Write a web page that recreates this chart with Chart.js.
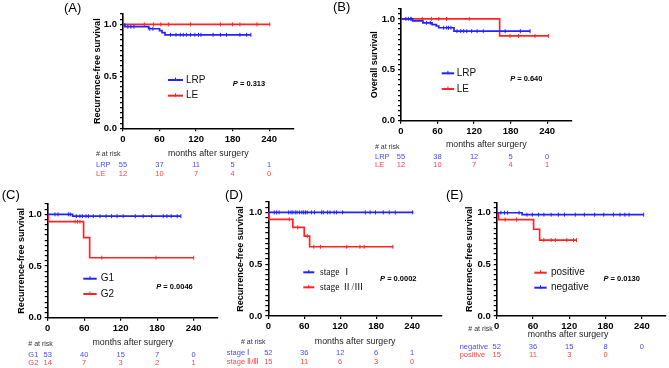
<!DOCTYPE html>
<html>
<head>
<meta charset="utf-8">
<script src="https://cdn.jsdelivr.net/npm/chart.js@4.4.1/dist/chart.umd.min.js"></script>
<style>
  html, body { margin: 0; padding: 0; background: #fff; }
  body { width: 669px; height: 368px; position: relative; overflow: hidden; }
  canvas { position: absolute; }
</style>
</head>
<body>
<canvas id="chartA"></canvas>
<canvas id="chartB"></canvas>
<canvas id="chartC"></canvas>
<canvas id="chartD"></canvas>
<canvas id="chartE"></canvas>
<script>
const monthTicks = [0, 60, 120, 180, 240];

// (A) recurrence-free survival, LRP vs LE
const aLrpMonths = [0, 3, 42, 60, 64, 69, 210];
const aLrpSurvival = [1, 0.978, 0.958, 0.94, 0.921, 0.9, 0.9];
const aLrpCensored = [8, 13, 18, 44, 49, 78, 87, 94, 99, 104, 111, 118, 124, 128, 148, 160, 170, 192, 203, 210];
const aLeMonths = [0, 241];
const aLeSurvival = [1, 1];
const aLeCensored = [35, 50, 62, 75, 111, 160, 180, 192, 220, 241];
const aLrpAtRisk = [55, 37, 11, 5, 1];
const aLeAtRisk = [12, 10, 7, 4, 0];

// (B) overall survival, LRP vs LE
const bLrpMonths = [0, 19, 36, 51, 58, 62, 87, 212];
const bLrpSurvival = [1, 0.981, 0.961, 0.943, 0.93, 0.913, 0.879, 0.879];
const bLrpCensored = [8, 12, 16, 42, 48, 70, 75, 78, 82, 92, 98, 103, 108, 116, 125, 135, 171, 196, 212];
const bLeMonths = [0, 162, 242];
const bLeSurvival = [1, 0.833, 0.833];
const bLeCensored = [17, 35, 50, 62, 75, 112, 179, 193, 220, 242];
const bLrpAtRisk = [55, 38, 12, 5, 0];
const bLeAtRisk = [12, 10, 7, 4, 1];

// (C) recurrence-free survival, G1 vs G2
const cG1Months = [0, 41, 219];
const cG1Survival = [1, 0.982, 0.982];
const cG1Censored = [12, 17, 34, 37, 47, 53, 57, 63, 67, 75, 86, 96, 105, 114, 124, 144, 157, 171, 190, 196, 203, 213, 219];
const cG2Months = [0, 1, 59, 69, 240];
const cG2Survival = [1, 0.929, 0.774, 0.58, 0.58];
const cG2Censored = [45, 49, 53, 89, 178, 240];
const cG1AtRisk = [53, 40, 15, 7, 0];
const cG2AtRisk = [14, 7, 3, 2, 1];

// (D) recurrence-free survival, stage I vs stage II/III
const dStage1Months = [0, 242];
const dStage1Survival = [1, 1];
const dStage1Censored = [10, 14, 18, 34, 38, 41, 45, 48, 52, 56, 59, 62, 65, 72, 77, 89, 92, 99, 103, 110, 114, 124, 162, 170, 179, 192, 202, 212, 241];
const dStage23Months = [0, 1, 41, 60, 69, 208];
const dStage23Survival = [1, 0.933, 0.855, 0.77, 0.668, 0.668];
const dStage23Censored = [35, 49, 65, 76, 87, 131, 153, 160, 208];
const dStage1AtRisk = [52, 36, 12, 6, 1];
const dStage23AtRisk = [15, 11, 6, 3, 0];

// (E) recurrence-free survival, negative vs positive
const eNegMonths = [0, 42, 243];
const eNegSurvival = [1, 0.981, 0.981];
const eNegCensored = [7, 13, 18, 37, 50, 59, 69, 78, 90, 102, 112, 130, 145, 162, 177, 193, 204, 212, 219, 243];
const ePosMonths = [0, 3, 61, 71, 132];
const ePosSurvival = [1, 0.933, 0.84, 0.735, 0.735];
const ePosCensored = [14, 33, 78, 90, 97, 116, 127, 132];
const eNegAtRisk = [52, 36, 15, 8, 0];
const ePosAtRisk = [15, 11, 3, 0, null];

const SANS = '"Liberation Sans", Arial, sans-serif';
const SERIF = '"Liberation Serif", "Noto Sans CJK JP", serif';
const BLUE = '#2323ff', RED = '#ff2424';
const BLUE_TXT = '#4a4aff', RED_TXT = '#ff4545';

function survivalAt(months, surv, t) {
  let s = surv[0];
  months.forEach((m, i) => { if (m <= t) s = surv[i]; });
  return s;
}

function group(name, color, textColor, months, surv, censored, atRisk) {
  return {
    name, color, textColor, atRisk,
    curve: months.map((m, i) => ({ x: m, y: surv[i] })),
    marks: censored.map(t => ({ x: t, y: survivalAt(months, surv, t) }))
  };
}

const panels = [
  {
    id: 'chartA', box: [0, 0, 330, 180], area: [123, 14, 293.5, 128.3], yTitleX: 97.7, xMax: 280,
    yTitle: 'Recurrence-free survival', label: '(A)', labelPos: [64, 8],
    groups: [
      group('LRP', BLUE, BLUE_TXT, aLrpMonths, aLrpSurvival, aLrpCensored, aLrpAtRisk),
      group('LE', RED, RED_TXT, aLeMonths, aLeSurvival, aLeCensored, aLeAtRisk)
    ],
    legend: { x: 168, len: 15, ys: [80, 95.7], textX: 186, order: [0, 1], font: '10px ' + SANS },
    pValue: '0.313', pPos: [249, 84],
    risk: { headX: 96, headY: 154, titleY: 154, rowYs: [165, 173.7], labelX: 96 }
  },
  {
    id: 'chartB', box: [330, 0, 339, 180], area: [71, 6.3, 241.5, 120.7], yTitleX: 45, xMax: 280,
    yTitle: 'Overall survival', label: '(B)', labelPos: [3, 7],
    groups: [
      group('LRP', BLUE, BLUE_TXT, bLrpMonths, bLrpSurvival, bLrpCensored, bLrpAtRisk),
      group('LE', RED, RED_TXT, bLeMonths, bLeSurvival, bLeCensored, bLeAtRisk)
    ],
    legend: { x: 111.7, len: 12.5, ys: [73.3, 89], textX: 126.7, order: [0, 1], font: '10px ' + SANS },
    pValue: '0.640', pPos: [196.3, 79],
    risk: { headX: 45, headY: 146.7, titleY: 145, rowYs: [157.3, 165], labelX: 45 }
  },
  {
    id: 'chartC', box: [0, 180, 222, 188], area: [47.7, 24, 218, 137.7], yTitleX: 21.7, xMax: 280,
    yTitle: 'Recurrence-free survival', label: '(C)', labelPos: [1.7, 15],
    groups: [
      group('G1', BLUE, BLUE_TXT, cG1Months, cG1Survival, cG1Censored, cG1AtRisk),
      group('G2', RED, RED_TXT, cG2Months, cG2Survival, cG2Censored, cG2AtRisk)
    ],
    legend: { x: 83.3, len: 13.4, ys: [98.7, 114], textX: 100.7, order: [0, 1], font: '10px ' + SANS },
    pValue: '0.0046', pPos: [174.5, 106.7],
    risk: { headX: 28.3, headY: 164, titleY: 162.7, rowYs: [174.7, 182.7], labelX: 28.3 }
  },
  {
    id: 'chartD', box: [222, 180, 223, 188], area: [46.3, 22, 222.3, 136], yTitleX: 18.7, xMax: 290,
    yTitle: 'Recurrence-free survival', label: '(D)', labelPos: [3, 15],
    groups: [
      group('stage Ⅰ', BLUE, BLUE_TXT, dStage1Months, dStage1Survival, dStage1Censored, dStage1AtRisk),
      group('stage Ⅱ/Ⅲ', RED, RED_TXT, dStage23Months, dStage23Survival, dStage23Censored, dStage23AtRisk)
    ],
    legend: { x: 81.3, len: 11, ys: [92.3, 107.3], textX: 98, order: [0, 1], font: '9.5px ' + SERIF },
    pValue: '0.0002', pPos: [176.3, 99.3],
    risk: { headX: 19, headY: 162.3, titleY: 161.3, rowYs: [173.3, 182], labelX: 4.7 }
  },
  {
    id: 'chartE', box: [445, 180, 224, 188], area: [51.7, 22.4, 221, 136], yTitleX: 25, xMax: 280,
    yTitle: 'Recurrence-free survival', label: '(E)', labelPos: [1, 15],
    groups: [
      group('negative', BLUE, BLUE_TXT, eNegMonths, eNegSurvival, eNegCensored, eNegAtRisk),
      group('positive', RED, RED_TXT, ePosMonths, ePosSurvival, ePosCensored, ePosAtRisk)
    ],
    legend: { x: 89.3, len: 12.4, ys: [92.7, 107.7], textX: 106, order: [1, 0], font: '10px ' + SANS },
    pValue: '0.0130', pPos: [176.7, 99],
    risk: { headX: 23.3, headY: 149, titleX: 123, titleY: 154.7, rowYs: [166.7, 175], labelX: 14.7 }
  }
];

// legend, P value, panel letter and numbers-at-risk table
function makeExtras(p) {
  return {
    id: 'kmExtras',
    afterDraw(chart) {
      const ctx = chart.ctx;
      const xs = chart.scales.x;
      const area = chart.chartArea;
      ctx.save();
      ctx.textBaseline = 'middle';
      ctx.textAlign = 'left';

      ctx.fillStyle = '#000';
      ctx.font = '13px ' + SANS;
      ctx.fillText(p.label, p.labelPos[0], p.labelPos[1]);

      const lg = p.legend;
      lg.order.forEach((gi, row) => {
        const g = p.groups[gi];
        const y = lg.ys[row];
        ctx.strokeStyle = g.color;
        ctx.lineWidth = 2;
        ctx.beginPath();
        ctx.moveTo(lg.x, y);
        ctx.lineTo(lg.x + lg.len, y);
        ctx.stroke();
        ctx.lineWidth = 1;
        ctx.beginPath();
        ctx.moveTo(lg.x + lg.len / 2, y - 2.5);
        ctx.lineTo(lg.x + lg.len / 2, y + 1);
        ctx.stroke();
        ctx.fillStyle = '#111';
        ctx.font = lg.font;
        ctx.fillText(g.name, lg.textX, y);
      });

      ctx.fillStyle = '#000';
      ctx.font = 'italic bold 7.5px ' + SANS;
      const wP = ctx.measureText('P').width;
      ctx.font = 'bold 7.5px ' + SANS;
      const rest = ' = ' + p.pValue;
      const wR = ctx.measureText(rest).width;
      const px = p.pPos[0] - (wP + wR) / 2;
      ctx.font = 'italic bold 7.5px ' + SANS;
      ctx.fillText('P', px, p.pPos[1]);
      ctx.font = 'bold 7.5px ' + SANS;
      ctx.fillText(rest, px + wP, p.pPos[1]);

      const r = p.risk;
      ctx.fillStyle = '#333';
      ctx.font = '7px ' + SANS;
      ctx.fillText('# at risk', r.headX, r.headY);
      ctx.fillStyle = '#222';
      ctx.font = '8.8px ' + SANS;
      ctx.textAlign = 'center';
      const tx = r.titleX !== undefined ? r.titleX : (area.left + area.right) / 2;
      ctx.fillText('months after surgery', tx, r.titleY);

      ctx.font = '7.5px ' + SANS;
      p.groups.forEach((g, i) => {
        const y = r.rowYs[i];
        ctx.fillStyle = g.textColor;
        ctx.textAlign = 'left';
        ctx.fillText(g.name, r.labelX, y);
        ctx.textAlign = 'center';
        g.atRisk.forEach((n, k) => {
          if (n === null) return;
          ctx.fillText(String(n), xs.getPixelForValue(monthTicks[k]), y);
        });
      });
      ctx.restore();
    }
  };
}

const X_AXIS_H = 16;
const TITLE_HALF = 5.4;

panels.forEach(p => {
  const [left, top, w, h] = p.box;
  const canvas = document.getElementById(p.id);
  canvas.width = w;
  canvas.height = h;
  canvas.style.left = left + 'px';
  canvas.style.top = top + 'px';
  canvas.style.width = w + 'px';
  canvas.style.height = h + 'px';

  const [aL, aT, aR, aB] = p.area;
  const padLeft = p.yTitleX - TITLE_HALF;
  const yWidth = aL - padLeft;

  const datasets = [];
  p.groups.forEach((g, i) => {
    datasets.push({
      data: g.marks, showLine: false, pointStyle: 'line', rotation: 90,
      pointRadius: 2, pointHoverRadius: 0, borderColor: g.color, borderWidth: 1,
      order: i * 2
    });
    datasets.push({
      data: g.curve, showLine: true, stepped: 'before', borderColor: g.color,
      borderWidth: 1.7, pointRadius: 0, pointHoverRadius: 0, fill: false,
      order: i * 2 + 1
    });
  });

  new Chart(canvas, {
    type: 'scatter',
    data: { datasets },
    options: {
      responsive: false,
      animation: false,
      events: [],
      layout: { padding: { left: padLeft, top: aT, right: w - aR, bottom: h - aB - X_AXIS_H } },
      plugins: { legend: { display: false }, tooltip: { enabled: false } },
      scales: {
        x: {
          type: 'linear', min: 0, max: p.xMax,
          afterBuildTicks: s => { s.ticks = monthTicks.map(v => ({ value: v })); },
          afterFit: s => { s.height = X_AXIS_H; },
          border: { display: true, color: '#000', width: 1.6 },
          grid: { drawOnChartArea: false, drawTicks: true, tickLength: 3, color: '#000', lineWidth: 1.2 },
          ticks: { autoSkip: false, maxRotation: 0, padding: 2, color: '#000', font: { family: SANS, size: 9.5, weight: 'bold' } }
        },
        y: {
          min: 0, max: 1.1,
          afterFit: s => { s.width = yWidth; },
          border: { display: true, color: '#000', width: 1.6 },
          grid: { drawOnChartArea: false, drawTicks: true, tickLength: 3, color: '#000', lineWidth: 1.2 },
          ticks: {
            stepSize: 0.05, maxTicksLimit: 40, autoSkip: false, padding: 3, color: '#000',
            font: { family: SANS, size: 9.5, weight: 'bold' },
            callback: v => (Math.abs(v * 2 - Math.round(v * 2)) < 1e-6 ? v.toFixed(1) : '')
          },
          title: {
            display: true, text: p.yTitle, color: '#000', padding: 0,
            font: { family: SANS, size: 9, weight: 'bold', lineHeight: 1.2 }
          }
        }
      }
    },
    plugins: [makeExtras(p)]
  });
});
</script>
</body>
</html>
